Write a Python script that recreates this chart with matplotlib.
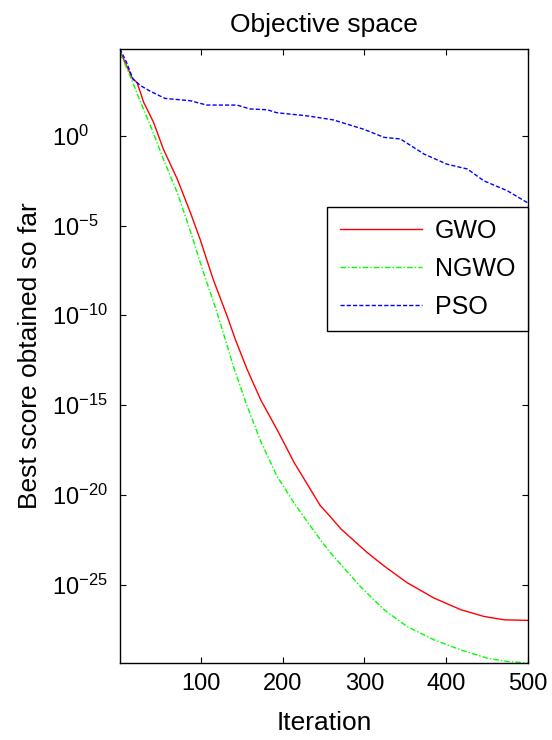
import matplotlib
matplotlib.use("Agg")
import matplotlib.pyplot as plt
from matplotlib.ticker import FixedLocator, NullLocator

# values (iteration, best score)
gwo_it = [1, 8, 16, 22, 30, 42, 54, 71, 87, 99, 115, 132, 142, 156, 173, 193,
          214, 234, 246, 258, 271, 303, 324, 352, 385, 418, 446, 471, 500]
gwo_score = [5.0e4, 1.0e4, 1.6e3, 8.9e2, 72, 5.6, 1.8e-1, 3.9e-3, 5.4e-5, 1.7e-6,
             1.0e-8, 9.1e-11, 4.6e-12, 1.1e-13, 2.0e-15, 4.4e-17, 6.3e-19, 2.0e-20,
             2.5e-21, 6.3e-22, 1.3e-22, 6.3e-24, 1.1e-24, 1.3e-25, 1.8e-26, 4.0e-27,
             1.7e-27, 1.1e-27, 1.02e-27]

ngwo_it = [1, 8, 15, 28, 40, 54, 71, 87, 103, 120, 140, 156, 173, 193, 214, 234,
           256, 295, 324, 352, 385, 418, 450, 475, 500]
ngwo_score = [4.0e4, 7.9e3, 1.4e3, 47, 2.3, 5.0e-2, 6.9e-4, 5.0e-6, 2.5e-8, 1.3e-10,
              1.3e-13, 1.0e-15, 1.0e-17, 1.1e-19, 3.5e-21, 1.8e-22, 7.9e-24, 7.9e-26,
              4.0e-27, 4.7e-28, 8.5e-29, 2.3e-29, 8.1e-30, 5.2e-30, 4.3e-30]

pso_it = [1, 9, 17, 26, 38, 56, 87, 107, 144, 160, 181, 193, 222, 234, 262, 299,
          324, 344, 373, 401, 426, 446, 475, 500]
pso_score = [6.9e4, 1.2e4, 1.4e3, 6.2e2, 3.0e2, 1.2e2, 89, 51, 51, 31, 28, 19, 14,
             12, 7.6, 2.3, 0.81, 0.66, 9.5e-2, 2.6e-2, 1.4e-2, 3.1e-3, 8.5e-4, 1.8e-4]

x_ticks = [100, 200, 300, 400, 500]
y_ticks = [1e-25, 1e-20, 1e-15, 1e-10, 1e-5, 1e0]

plt.rcParams["font.family"] = ["Liberation Sans", "DejaVu Sans"]
plt.rcParams["mathtext.fontset"] = "custom"
plt.rcParams["mathtext.rm"] = "Liberation Sans"
plt.rcParams["mathtext.default"] = "regular"
plt.rcParams["axes.unicode_minus"] = False

fig = plt.figure(figsize=(5.52, 7.40), dpi=100)
ax = fig.add_axes([0.2174, 0.104, 0.739, 0.830])

ax.semilogy(gwo_it, gwo_score, color=(1, 0, 0), lw=1.0, label="GWO")
ax.semilogy(ngwo_it, ngwo_score, color=(0, 1, 0), lw=1.0, dashes=[4, 1.5, 1, 1.5],
            label="NGWO")
ax.semilogy(pso_it, pso_score, color=(0, 0, 1), lw=1.0, dashes=[3, 1.5], label="PSO")

ax.set_xlim(1, 500)
allv = gwo_score + ngwo_score + pso_score
ax.set_ylim(min(allv), max(allv))

ax.xaxis.set_major_locator(FixedLocator(x_ticks))
ax.yaxis.set_major_locator(FixedLocator(y_ticks))
ax.yaxis.set_minor_locator(NullLocator())
ax.tick_params(which="both", direction="in", top=True, right=True, length=4.3,
               width=0.8, labelsize=17, colors="black")
ax.tick_params(axis="x", pad=7)
ax.tick_params(axis="y", pad=49)
for lab in ax.get_yticklabels():
    lab.set_horizontalalignment("left")
for sp in ax.spines.values():
    sp.set_linewidth(1.0)

ax.set_title("Objective space", fontsize=19, pad=12)
ax.set_xlabel("Iteration", fontsize=19, labelpad=12)
ax.set_ylabel("Best score obtained so far", fontsize=19)
ax.yaxis.set_label_coords(-0.19, 0.5)

leg = ax.legend(loc="upper right", bbox_to_anchor=(1.0, 0.743), borderaxespad=0,
                fontsize=18, fancybox=False, framealpha=1, edgecolor="black",
                handlelength=3.3, handletextpad=0.5, labelspacing=0.55,
                borderpad=0.5)
leg.get_frame().set_linewidth(1.0)

fig.savefig("out.png", dpi=100)
